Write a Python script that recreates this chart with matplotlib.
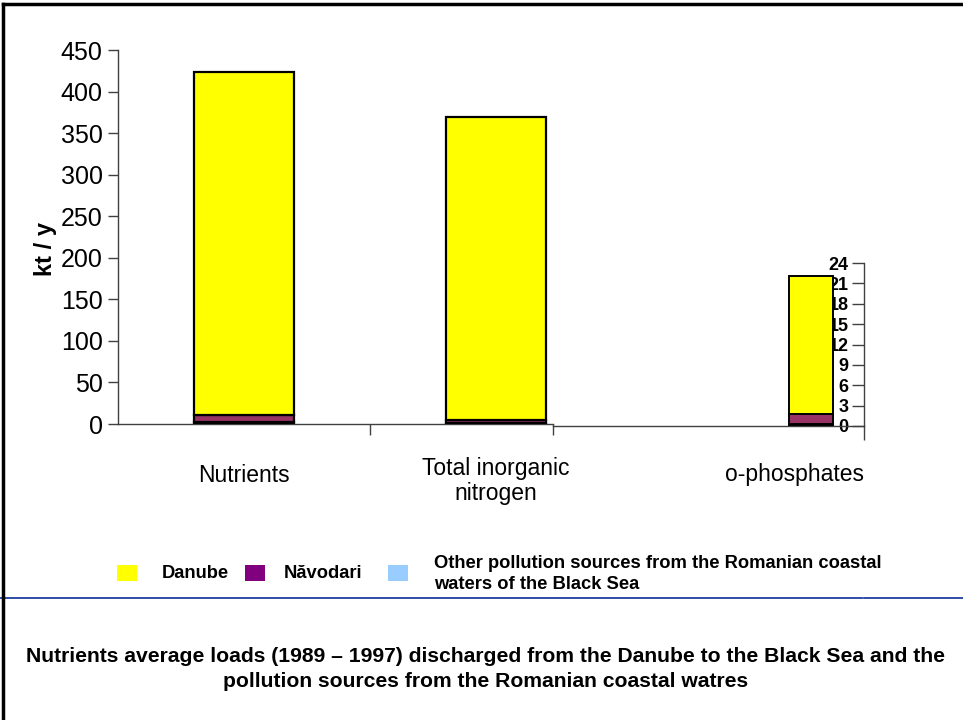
import numpy as np
import matplotlib
matplotlib.use('Agg')
import matplotlib.pyplot as plt
from matplotlib.lines import Line2D
from matplotlib.patches import Rectangle

# values (kt / y)
main_cats = ['Nutrients', 'Total inorganic\nnitrogen']
other_main = [3.0, 1.5]
navodari_main = [8.0, 3.0]
danube_main = [412.0, 365.0]

phos_cat = ['o-phosphates']
other_phos = [0.3]
navodari_phos = [1.5]
danube_phos = [20.3]

main_ticks = [0, 50, 100, 150, 200, 250, 300, 350, 400, 450]
phos_ticks = [0, 3, 6, 9, 12, 15, 18, 21, 24]

series_names = ['Danube', 'Năvodari',
                'Other pollution sources from the Romanian coastal\nwaters of the Black Sea']
legend_colors = ['#FFFF00', '#800080', '#99CCFF']

title = ('Nutrients average loads (1989 – 1997) discharged from the Danube to the Black Sea and the\n'
         'pollution sources from the Romanian coastal watres')

YELLOW = '#FFFF00'
PLUM = '#993366'
LBLUE = '#99CCFF'
AXC = '#404040'
ARIAL = ['Liberation Sans', 'DejaVu Sans']

fig = plt.figure(figsize=(9.63, 7.2), dpi=100)
W, H = 963.0, 720.0


def fx(px):
    return px / W


def fy(py):
    return 1 - py / H


# ---- main axes (N loads) ----
ax = fig.add_axes([fx(118), fy(424), fx(553) - fx(118), fy(50) - fy(424)])
x = np.arange(len(main_cats))
bw = 0.40
kw = dict(width=bw, edgecolor='black', linewidth=1.6, zorder=3)
b0 = np.zeros(len(x))
ax.bar(x, other_main, bottom=b0, color=LBLUE, **kw)
b0 = b0 + other_main
ax.bar(x, navodari_main, bottom=b0, color=PLUM, **kw)
b0 = b0 + navodari_main
ax.bar(x, danube_main, bottom=b0, color=YELLOW, **kw)

ax.set_xlim(-0.5, (553 - 118) / 252.0 - 0.5)
ax.set_ylim(0, 450)
ax.set_yticks(main_ticks)
ax.set_xticks([0.5, ax.get_xlim()[1]])
ax.set_xticklabels([])
for s in ['top', 'right']:
    ax.spines[s].set_visible(False)
for s in ['left', 'bottom']:
    ax.spines[s].set_color(AXC)
    ax.spines[s].set_linewidth(1.0)
ax.tick_params(axis='y', direction='out', length=7, width=1, color=AXC, pad=4)
ax.tick_params(axis='x', direction='out', length=8, width=1, color=AXC)
for lab in ax.get_yticklabels():
    lab.set_family(ARIAL)
    lab.set_fontsize(18)
ax.patch.set_alpha(0)

for i, c in enumerate(main_cats):
    dy = -51 if '\n' not in c else -57
    ax.annotate(c, xy=(x[i], 0), xycoords=('data', 'axes fraction'),
                xytext=(0, dy * 0.72), textcoords='offset points',
                ha='center', va='center', fontsize=16.5, family=ARIAL,
                linespacing=1.15)

fig.text(fx(45), fy(249), 'kt / y', rotation=90, ha='center', va='center',
         fontsize=17, fontweight='bold', family=ARIAL)

# ---- inset axes (phosphates, own scale) ----
ax2 = fig.add_axes([fx(553), fy(426), fx(864) - fx(553), fy(263) - fy(426)])
ppu = 44 / 0.45
xp = np.arange(len(phos_cat))
kw2 = dict(width=0.45, edgecolor='black', linewidth=1.4, zorder=3)
p0 = np.zeros(len(xp))
ax2.bar(xp, other_phos, bottom=p0, color=LBLUE, **kw2)
p0 = p0 + other_phos
ax2.bar(xp, navodari_phos, bottom=p0, color=PLUM, **kw2)
p0 = p0 + navodari_phos
ax2.bar(xp, danube_phos, bottom=p0, color=YELLOW, **kw2)
ax2.set_xlim(-(811 - 553) / ppu, (864 - 811) / ppu)
ax2.set_ylim(0, 24)
ax2.set_yticks(phos_ticks)
ax2.set_xticks([ax2.get_xlim()[1]])
ax2.set_xticklabels([])
ax2.spines['left'].set_position(('axes', 1.0))
for s in ['top', 'right']:
    ax2.spines[s].set_visible(False)
for s in ['left', 'bottom']:
    ax2.spines[s].set_color(AXC)
    ax2.spines[s].set_linewidth(1.0)
ax2.tick_params(axis='y', direction='out', length=9, width=1, color=AXC, pad=2)
ax2.tick_params(axis='x', direction='out', length=10, width=1, color=AXC)
for lab in ax2.get_yticklabels():
    lab.set_family(ARIAL)
    lab.set_fontsize(13)
    lab.set_fontweight('bold')
ax2.patch.set_alpha(0)
ax2.annotate(phos_cat[0], xy=(xp[0] - 0.17, 0), xycoords=('data', 'axes fraction'),
             xytext=(0, -49 * 0.72), textcoords='offset points',
             ha='center', va='center', fontsize=16.5, family=ARIAL)

# ---- legend ----
leg_sq_x = [117, 245, 388]
leg_tx_x = [162, 284, 434]
for i, name in enumerate(series_names):
    fig.patches.append(Rectangle((fx(leg_sq_x[i]), fy(581)), 20 / W, 16 / H,
                                 transform=fig.transFigure, facecolor=legend_colors[i],
                                 edgecolor='none'))
    fig.text(fx(leg_tx_x[i]), fy(574), name, ha='left', va='center',
             fontsize=13.2, fontweight='bold', family=ARIAL, linespacing=1.3)

# separator line and frame
fig.add_artist(Line2D([0, fx(862)], [fy(598), fy(598)], color='#1F3F9F', lw=1.3))
fig.add_artist(Line2D([fx(864), 1], [fy(598), fy(598)], color='#1F3F9F', lw=1.3))
fig.add_artist(Line2D([fx(3), 1], [fy(4), fy(4)], color='black', lw=2.5))
fig.add_artist(Line2D([fx(3), fx(3)], [fy(4), 0], color='black', lw=2.5))

fig.text(fx(486), fy(669), title, ha='center', va='center', fontsize=15.2,
         fontweight='bold', family=ARIAL, linespacing=1.35)

fig.savefig('out.png', dpi=100)
